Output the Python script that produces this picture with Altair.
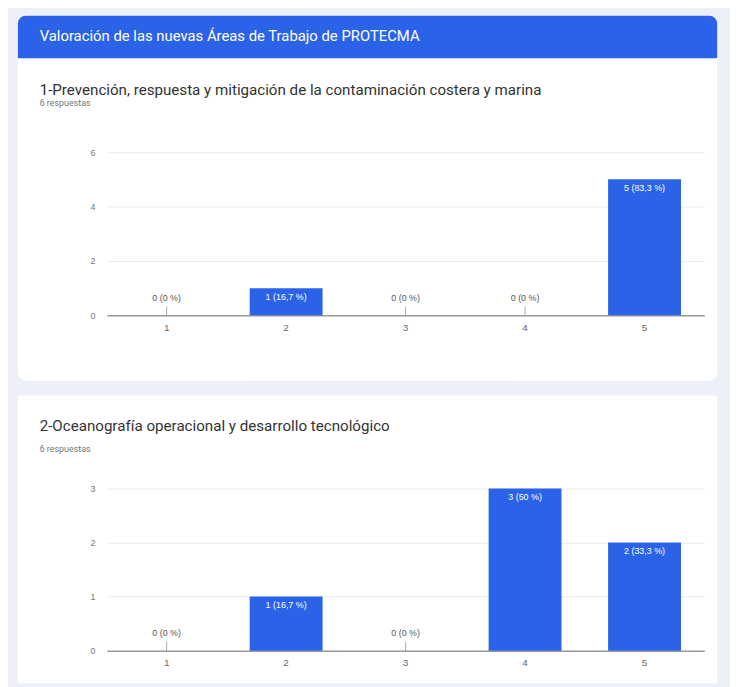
import altair as alt
import pandas as pd

header_text = "Valoración de las nuevas Áreas de Trabajo de PROTECMA"
q1_title = "1-Prevención, respuesta y mitigación de la contaminación costera y marina"
q2_title = "2-Oceanografía operacional y desarrollo tecnológico"
responses_text = "6 respuestas"

categories = ["1", "2", "3", "4", "5"]
q1_counts = [0, 1, 0, 0, 5]
q1_labels = ["0 (0 %)", "1 (16,7 %)", "0 (0 %)", "0 (0 %)", "5 (83,3 %)"]
q2_counts = [0, 1, 0, 3, 2]
q2_labels = ["0 (0 %)", "1 (16,7 %)", "0 (0 %)", "3 (50 %)", "2 (33,3 %)"]
q1_ticks = [0, 2, 4, 6]
q2_ticks = [0, 1, 2, 3]

BLUE = "#2a63e8"
BG = "#eef0f8"
CARD_W = 707
FONT = "Liberation Sans"


def text_layer(txt, x, y, size, color, font="Roboto"):
    return alt.Chart(pd.DataFrame({"t": [txt]})).mark_text(
        align="left", baseline="middle", fontSize=size, color=color, font=font
    ).encode(x=alt.value(x), y=alt.value(y), text="t:N")


def card(title, counts, labels, ticks, height, plot_top, plot_bottom, title_y, resp_y,
         header=False, radius=8):
    df = pd.DataFrame({"cat": categories, "count": counts, "label": labels})
    x = alt.X(
        "cat:N", sort=categories, title=None,
        scale=alt.Scale(range=[90, 694], paddingInner=0.39, paddingOuter=0.195),
        axis=alt.Axis(orient="bottom", offset=plot_bottom - height, labelAngle=0, ticks=False,
                      domainColor="#9a9a9a", domainWidth=1.5, labelPadding=7, labelFontSize=10,
                      labelColor="#666666", grid=False, labelFont=FONT),
    )
    y = alt.Y(
        "count:Q", title=None,
        scale=alt.Scale(domain=[0, ticks[-1]], range=[plot_bottom, plot_top], nice=False, zero=True),
        axis=alt.Axis(orient="left", offset=-90, values=ticks, domain=False, ticks=False, grid=True,
                      gridColor="#ececec", labelPadding=12, labelFontSize=9, labelColor="#777777",
                      labelFont=FONT),
    )
    base = alt.Chart(df)
    bars = base.mark_bar(color=BLUE).encode(x=x, y=y)
    in_lbl = base.mark_text(color="white", dy=9, fontSize=9, font=FONT, baseline="middle").encode(
        x=x, y=y, text="label:N").transform_filter("datum.count > 0")
    zero_lbl = base.mark_text(color="#555555", dy=-18, fontSize=9, font=FONT, baseline="middle").encode(
        x=x, y=y, text="label:N").transform_filter("datum.count == 0")
    stems = base.mark_tick(orient="vertical", size=9, thickness=1, color="#888888", yOffset=-4.5).encode(
        x=x, y=y).transform_filter("datum.count == 0")

    layers = []
    if header:
        layers.append(
            alt.Chart(pd.DataFrame({"h": [0]})).mark_rect(
                color=BLUE, cornerRadiusTopLeft=8, cornerRadiusTopRight=8
            ).encode(x=alt.value(0), x2=alt.value(CARD_W), y=alt.value(0), y2=alt.value(43))
        )
        layers.append(text_layer(header_text, 22, 21, 15, "white"))
    layers.append(text_layer(title, 22, title_y, 15.3, "#333333"))
    layers.append(text_layer(responses_text, 22, resp_y, 9, "#777777"))
    layers += [bars, in_lbl, zero_lbl, stems]
    return alt.layer(*layers).properties(
        width=CARD_W, height=height,
        view=alt.ViewBackground(fill="white", stroke="transparent", strokeWidth=0, cornerRadius=radius),
    )


c1 = card(q1_title, q1_counts, q1_labels, q1_ticks, 369, 138, 303, 75, 88, header=True)
c2 = card(q2_title, q2_counts, q2_labels, q2_ticks, 291, 94, 258, 31, 54, radius=0)

chart = alt.vconcat(c1, c2, spacing=15).properties(
    background=BG,
    padding={"left": 10, "top": 4, "right": 13, "bottom": 0},
).configure_view(strokeWidth=0)

chart.save("out.html", embed_options={"renderer": "svg", "actions": False})
